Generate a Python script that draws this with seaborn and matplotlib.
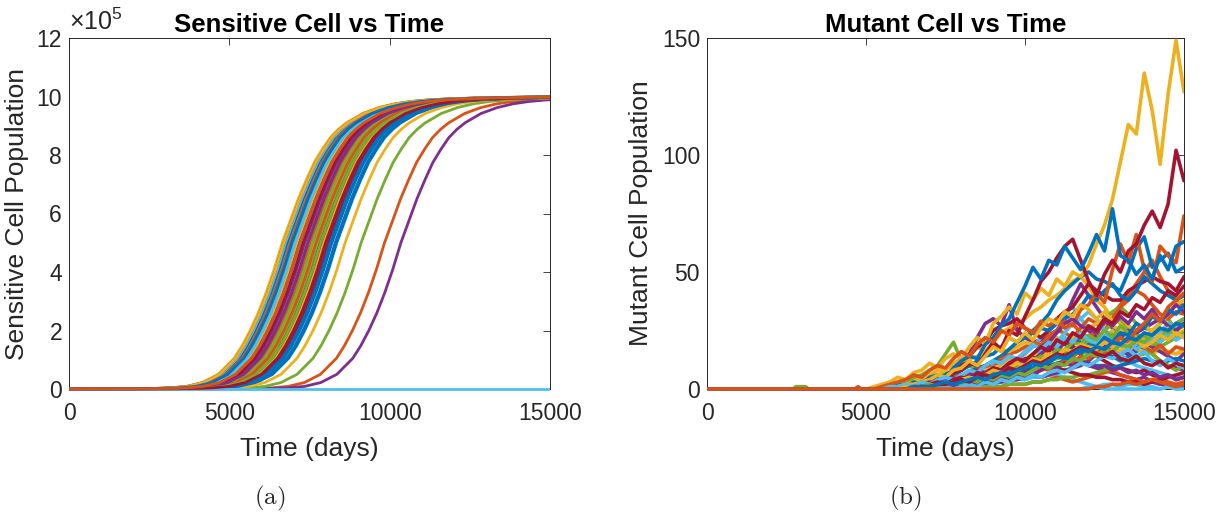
import numpy as np
import pandas as pd
import matplotlib
matplotlib.use("Agg")
import matplotlib.pyplot as plt
from matplotlib.ticker import FuncFormatter
from matplotlib.transforms import Bbox, TransformedBbox
import seaborn as sns

# ---------------- data ----------------
# MATLAB default colour order
colors = ["#0072BD", "#D95319", "#EDB120", "#7E2F8E", "#77AC30", "#4DBEEE", "#A2142F"]

# Sensitive cells: growth curve shape (fraction of 1e6 capacity,
# offset in days from the half-way time) and the half-way time of every run.
sens_offsets = [-6000, -5000, -4000, -3500, -3000, -2500, -2000, -1500, -1250, -1000, -750,
                -500, -250, 0, 250, 500, 750, 1000, 1250, 1500, 1750, 2000, 2500, 3000,
                3500, 4000, 4500, 5000, 6000, 7000, 8000, 9000]
sens_shape = [0.0002, 0.0006, 0.002, 0.004, 0.009, 0.022, 0.05, 0.105, 0.148, 0.20, 0.26,
              0.33, 0.41, 0.50, 0.575, 0.65, 0.715, 0.775, 0.82, 0.86, 0.888, 0.91, 0.942, 0.962,
              0.975, 0.983, 0.988, 0.991, 0.995, 0.997, 0.998, 0.999]
capacity = 1.0e6
sens_midpoints = [8350, 9840, 7400, 10350, 9110, 6900, 7950, 8200, 7600, 8610,
                  7800, 7300, 7000, 7700, 8050, 7150, 6650, 7900, 7550, 6850,
                  7450, 8300, 7050, 7650, 8000, 6950, 7250, 7850, 6800, 7500,
                  7100, 7350, 7750, 6750, 8100, 7200, 6900, 7950, 6700, 7600,
                  7050, 7300, 8150, 7700, 6700, 7450, 7850, np.nan, 8000, 6950, 7200]

# Mutant cells: values every 250 days from day 5000 to day 15000 (zero before)
mut_t = list(range(5000, 15001, 250))
mut_b_small = [0,0,0,0, 0,1,1,1, 2,2,3,3, 4,5,6,5, 6,8,10,9, 10,12,14,16, 18,20,22,20, 18,16,15,14, 12,14,16,18, 20,22,25,28, 30]
mut_o_small = [0,0,0,0, 0,0,0,1, 1,1,2,2, 2,3,3,4, 4,5,6,5, 6,7,8,9, 10,12,14,16, 20,24,28,32, 36,40,45,50, 55,48,42,38, 35]
mut_y_mid = [0,0,1,1, 2,3,4,5, 6,8,9,11, 13,15,18,16, 20,24,26,28, 30,33,35,38, 40,43,46,48, 44,38,35,30, 28,25,22,20, 18,17,16,15, 17]
mut_p_big = [0,0,0,0, 0,1,1,2, 3,4,5,7, 10,15,22,28, 30,27,36,25, 22,20,21,23, 25,30,38,45, 40,35,30,26, 22,20,18,17, 15,12,10,9, 8]
mut_g_big = [0,0,0,1, 2,3,5,6, 8,10,15,20, 12,10,8,9, 10,11,12,11, 12,13,15,14, 15,17,20,22, 20,25,30,33, 35,32,28,26, 25,28,30,25, 27]
mut_l_small = [0,0,0,0, 0,1,2,2, 3,3,4,5, 6,5,6,8, 10,12,14,13, 15,18,22,25, 28,32,35,30, 26,22,20,18, 15,12,10,9, 8,7,6,5, 5]
mut_r_mid = [0,0,0,0, 1,1,2,2, 3,5,6,8, 10,14,18,20, 25,27,28,30, 26,24,22,25, 30,33,35,40, 45,42,40,38, 38,42,44,46, 48,46,45,42, 48]
mut_b_mid2 = [0,0,0,0, 0,1,2,3, 4,5,7,6, 8,10,12,14, 15,18,22,20, 22,25,28,32, 38,42,45,48, 50,47,46,44, 42,50,60,65, 52,55,58,50, 52]
mut_o_mid = [0,0,0,0, 0,0,1,1, 2,3,4,5, 6,7,8,10, 12,14,15,16, 18,20,19,22, 25,24,22,26, 30,28,25,30, 35,38,42,40, 36,32,30,33, 32]
mut_y_small = [0,0,0,1, 1,2,3,4, 5,6,8,10, 12,13,14,16, 18,17,16,18, 20,19,18,20, 22,20,18,17, 18,20,22,25, 20,18,17,16, 15,17,16,15, 16]
mut_p_small = [0,0,0,0, 0,0,1,1, 1,2,2,3, 3,4,5,6, 8,7,9,10, 12,11,10,12, 14,15,13,12, 10,9,8,7, 6,5,4,5, 3,2,2,1, 1]
mut_g_small = [0,0,0,0, 0,0,0,1, 1,2,2,3, 3,4,4,5, 6,7,8,7, 8,9,10,12, 14,16,15,18, 20,22,25,28, 30,26,24,20, 18,20,23,25, 22]
mut_l_mid = [0,0,0,0, 0,0,1,1, 2,3,3,4, 5,6,7,7, 8,9,10,11, 12,14,16,18, 20,24,28,30, 33,30,25,23, 22,20,19,18, 20,24,28,26, 30]
mut_r_small = [0,0,0,0, 0,0,1,1, 2,2,3,3, 4,5,6,6, 7,8,9,10, 12,14,13,12, 14,16,18,17, 15,14,12,10, 9,8,7,8, 6,5,6,4, 5]
mut_b_mid = [0,0,0,0, 0,0,0,1, 1,2,3,4, 5,7,9,10, 12,14,17,20, 22,24,26,25, 28,30,32,35, 40,38,42,45, 40,38,42,48, 45,42,40,38, 40]
mut_o_big = [0,0,0,0, 0,1,2,1, 3,2,4,5, 4,7,8,10, 9,13,14,12, 16,19,18,23, 25,29,27,34, 36,41,37,51, 62,54,66,51, 46,61,57,54, 74]
mut_y_big = [0,1,2,3, 5,4,7,8, 11,9,13,15, 13,18,22,19, 28,31,35,32, 41,38,43,40, 47,44,50,48, 53,62,70,81, 97,113,109,135, 119,96,126,149, 127]
mut_p_small2 = [0,0,0,0, 0,0,0,0, 0,1,1,2, 2,3,3,4, 5,6,8,10, 12,15,18,20, 24,28,30,27, 25,22,20,18, 16,15,17,20, 18,16,14,12, 15]
mut_g_mid = [0,0,0,0, 0,0,1,1, 1,2,2,3, 3,3,4,4, 5,6,6,7, 8,9,10,12, 13,14,16,15, 16,18,20,22, 24,22,20,18, 15,12,10,8, 10]
mut_l_small2 = [0,0,0,0, 0,0,0,0, 0,0,0,1, 1,1,2,2, 2,3,3,4, 4,5,5,6, 6,5,4,3, 2,1,0,0, 0,0,0,0, 0,0,1,2, 2]
mut_r_big = [0,0,0,0, 1,2,1,3, 4,5,3,7, 8,11,10,15, 20,17,25,23, 31,38,46,50, 56,61,64,55, 46,40,49,55, 50,59,62,70, 76,69,79,102, 89]
mut_b_big = [0,0,0,1, 2,1,3,2, 5,6,4,9, 12,14,13,19, 22,27,30,37, 44,52,47,55, 53,61,56,51, 58,66,59,77, 57,55,49,53, 47,57,51,61, 63]
mut_o_small2 = [0,0,0,0, 0,0,0,0, 0,0,0,0, 0,0,1,1, 1,1,2,2, 2,3,3,4, 5,4,3,4, 5,6,7,8, 6,5,4,3, 4,5,3,2, 3]
mut_y_small2 = [0,0,0,0, 0,0,1,1, 2,2,3,4, 5,6,7,8, 9,10,12,11, 13,15,14,16, 18,20,22,24, 26,28,30,27, 25,22,20,22, 25,28,32,36, 38]
mut_p_small3 = [0,0,0,0, 0,0,0,0, 0,0,1,1, 1,2,2,2, 3,3,4,4, 5,6,5,6, 7,8,9,10, 12,15,18,20, 22,25,24,26, 28,30,27,25, 28]
mut_g_small2 = [0,0,0,0, 0,0,0,0, 0,0,0,0, 0,0,0,1, 1,1,2,2, 2,3,3,4, 4,5,5,6, 6,7,8,9, 10,12,14,15, 16,18,20,22, 24]
mut_l_zero = [0,0,0,0, 0,0,0,0, 0,0,0,0, 0,0,0,0, 0,0,0,0, 0,0,0,0, 0,0,0,0, 1,1,2,2, 1,2,2,1, 1,0,1,0, 0]
mut_r_small2 = [0,0,0,0, 0,0,0,1, 1,1,2,2, 3,3,4,5, 5,6,7,8, 8,9,10,10, 9,8,7,6, 6,5,5,4, 4,3,3,2, 3,4,5,6, 7]
mut_b_small2 = [0,0,0,0, 0,0,0,0, 0,1,1,1, 2,2,3,3, 4,5,5,6, 7,8,9,10, 11,12,13,12, 11,10,10,9, 10,11,12,13, 12,11,12,13, 12]
mut_y_zig = [0,0,1,2, 3,4,6,5, 8,10,9,13, 16,14,19,22, 20,25,23,28, 26,24,29,27, 30,26,28,24, 22,25,20,23, 19,17,21,18, 16,19,15,18, 17]
mut_p_zig = [0,0,0,0, 1,2,2,3, 4,6,5,8, 9,12,10,14, 18,16,22,20, 24,21,26,30, 28,33,31,36, 34,30,33,29, 31,27,25,28, 24,22,26,23, 25]
mut_g_zig = [0,0,0,0, 0,1,1,2, 3,2,4,5, 4,6,8,7, 9,8,11,10, 13,12,15,18, 16,20,19,23, 26,24,29,27, 31,28,33,30, 34,29,32,36, 33]
mut_l_zig = [0,0,0,0, 0,0,1,1, 2,1,3,2, 4,3,5,6, 5,8,7,10, 9,12,14,13, 17,16,20,19, 23,21,25,22, 27,24,21,23, 19,22,25,21, 24]
mut_r_zig = [0,0,0,1, 1,2,1,3, 2,4,5,4, 6,8,7,10, 12,11,14,13, 16,19,17,20, 18,22,20,24, 21,19,23,20, 18,21,17,19, 22,20,24,21, 23]
mut_b_zig = [0,0,0,0, 0,0,1,1, 2,3,2,4, 5,4,7,6, 9,8,11,13, 12,15,18,16, 21,19,24,22, 27,25,30,28, 33,31,36,34, 39,37,42,40, 44]
mut_o_zig = [0,0,0,0, 0,0,0,1, 1,2,1,3, 2,4,3,5, 6,5,8,7, 10,9,12,11, 14,13,17,15, 19,18,22,20, 24,23,28,26, 31,29,34,32, 36]
mut_o_low = [0,0,0,0, 0,0,1,0, 1,2,1,2, 3,2,4,3, 5,4,6,5, 7,6,9,8, 10,12,11,14, 13,16,15,19, 22,20,25,28, 32,29,35,38, 41]
mut_y_low = [0,0,0,0, 0,1,0,1, 2,1,3,2, 4,5,4,6, 8,7,9,11, 10,13,12,15, 14,17,16,19, 18,17,20,18, 16,19,21,18, 20,23,21,24, 22]
mut_p_low = [0,0,0,0, 0,0,0,1, 0,1,2,1, 2,3,2,4, 3,5,4,6, 7,6,8,10, 9,11,10,12, 11,9,10,8, 9,7,8,6, 7,5,6,4, 5]
mut_g_low = [0,0,0,0, 0,0,1,1, 2,1,2,3, 2,4,3,5, 4,6,5,7, 6,8,10,9, 11,10,13,12, 15,14,17,16, 19,18,21,20, 23,26,24,28, 30]
mut_l_low = [0,0,0,0, 0,0,0,0, 0,0,1,0, 1,2,1,3, 2,4,3,5, 4,6,5,7, 8,7,9,11, 10,12,14,13, 15,17,14,16, 12,10,13,11, 9]
mut_r_low = [0,0,0,0, 0,0,0,1, 1,2,2,3, 4,3,5,6, 5,7,9,8, 10,12,11,13, 15,14,16,18, 17,15,14,16, 13,12,14,11, 10,12,9,11, 10]
mut_b_low = [0,0,0,0, 0,0,1,1, 1,2,3,2, 3,4,5,4, 6,7,6,8, 9,11,10,12, 14,13,15,17, 16,18,17,20, 19,22,21,24, 23,26,25,28, 27]
mut_o_zero = [0,0,0,0, 0,0,0,0, 0,0,0,0, 0,0,0,0, 0,0,0,0, 0,0,0,0, 0,0,0,0, 0,1,1,2, 2,3,2,3, 4,3,2,1, 2]

# early short-lived mutant blips
blip_green_t = [2700, 2800, 2900, 3000, 3100, 3200]
blip_green_v = [0, 1, 1, 1, 1, 0]
blip_orange_t = [4650, 4750, 4850]
blip_orange_v = [0, 1, 0]

mut_runs = [mut_b_small, mut_o_small, mut_y_mid, mut_p_big, mut_g_big, mut_l_small, mut_r_mid,
            mut_b_mid2, mut_o_mid, mut_y_small, mut_p_small, mut_g_small, mut_l_mid, mut_r_small,
            mut_b_mid, mut_o_big, mut_y_big, mut_p_small2, mut_g_mid, mut_l_small2, mut_r_big,
            mut_b_big, mut_o_small2, mut_y_small2, mut_p_small3, mut_g_small2, mut_l_zero,
            mut_r_small2, mut_b_small2, mut_y_zig, mut_p_zig, mut_g_zig, mut_l_zig, mut_r_zig,
            mut_b_zig, mut_o_zig, mut_o_low, mut_y_low, mut_p_low, mut_g_low, mut_l_low,
            mut_r_low, mut_b_low, mut_o_zero]

# ---------------- build per-run tables (in drawing order) ----------------
sens_tables = []
for i, m in enumerate(sens_midpoints):
    if np.isnan(m):
        ts = [0, 15000]
        vs = [0.0, 0.0]
    else:
        ts = [0] + [m + o for o in sens_offsets]
        vs = [0.0] + [s * capacity for s in sens_shape]
    sens_tables.append((pd.DataFrame({"t": ts, "v": vs}), colors[i % 7]))

mut_tables = [(pd.DataFrame({"t": blip_green_t, "v": blip_green_v}), colors[4]),
              (pd.DataFrame({"t": blip_orange_t, "v": blip_orange_v}), colors[1])]
for j, run in enumerate(mut_runs):
    mut_tables.append((pd.DataFrame({"t": [0] + mut_t, "v": [0] + run}), colors[j % 7]))

# ---------------- plotting ----------------
sns.set_theme(style="white")
plt.rcParams["font.family"] = ["Liberation Sans", "DejaVu Sans"]
plt.rcParams["mathtext.fontset"] = "custom"
plt.rcParams["mathtext.rm"] = "Liberation Sans"

txt = "#262626"
fig = plt.figure(figsize=(12.25, 5.18), dpi=100)
ax1 = fig.add_axes([69 / 1225, 1 - 389 / 518, 481 / 1225, 351 / 518])
ax2 = fig.add_axes([707 / 1225, 1 - 389 / 518, 477 / 1225, 351 / 518])

for df, c in sens_tables:
    sns.lineplot(data=df, x="t", y="v", color=c, estimator=None, sort=False,
                 lw=2.0, ax=ax1)
for df, c in mut_tables:
    sns.lineplot(data=df, x="t", y="v", color=c, estimator=None, sort=False,
                 lw=2.6, ax=ax2)

for ax in (ax1, ax2):
    # let lines lying on y = 0 show in full (as in MATLAB) while clipping the rest
    clip = TransformedBbox(Bbox([[0, -0.03], [1, 1.0]]), ax.transAxes)
    for n, ln in enumerate(ax.lines):
        ln.set_clip_box(clip)
        ln.set_zorder(3 + n * 1e-4)
    ax.set_xlim(0, 15000)
    ax.set_xticks([0, 5000, 10000, 15000])
    ax.tick_params(direction="in", length=5, width=0.6, colors=txt, labelsize=16.5,
                   top=True, right=True)
    ax.tick_params(axis="x", pad=9)
    ax.tick_params(axis="y", pad=5)
    for sp in ax.spines.values():
        sp.set_color("#262626")
        sp.set_linewidth(0.7)
        sp.set_visible(True)
    ax.set_xlabel("Time (days)", fontsize=19, color=txt, labelpad=9)

ax1.set_ylim(0, 12e5)
ax1.set_yticks(np.arange(0, 12.1e5, 2e5))
ax1.yaxis.set_major_formatter(FuncFormatter(lambda v, p: f"{v / 1e5:g}"))
ax1.set_ylabel("Sensitive Cell Population", fontsize=19, color=txt)
ax1.yaxis.set_label_coords(-0.083, 0.5)
ax1.set_title("Sensitive Cell vs Time", fontsize=18.5, fontweight="bold", color="black", pad=4)
ax1.text(0.0, 1.008, r"$\times10^{5}$", transform=ax1.transAxes, fontsize=18,
         color=txt, ha="left", va="bottom")

ax2.set_ylim(0, 150)
ax2.set_yticks([0, 50, 100, 150])
ax2.set_ylabel("Mutant Cell Population", fontsize=19, color=txt)
ax2.yaxis.set_label_coords(-0.113, 0.5)
ax2.set_title("Mutant Cell vs Time", fontsize=18.5, fontweight="bold", color="black", pad=4)

fig.text(270 / 1225, 1 - 498 / 518, r"$\mathrm{(a)}$", fontsize=18, ha="center", va="center",
         math_fontfamily="cm")
fig.text(905 / 1225, 1 - 498 / 518, r"$\mathrm{(b)}$", fontsize=18, ha="center", va="center",
         math_fontfamily="cm")

fig.savefig("out.png", dpi=100, facecolor="white")
